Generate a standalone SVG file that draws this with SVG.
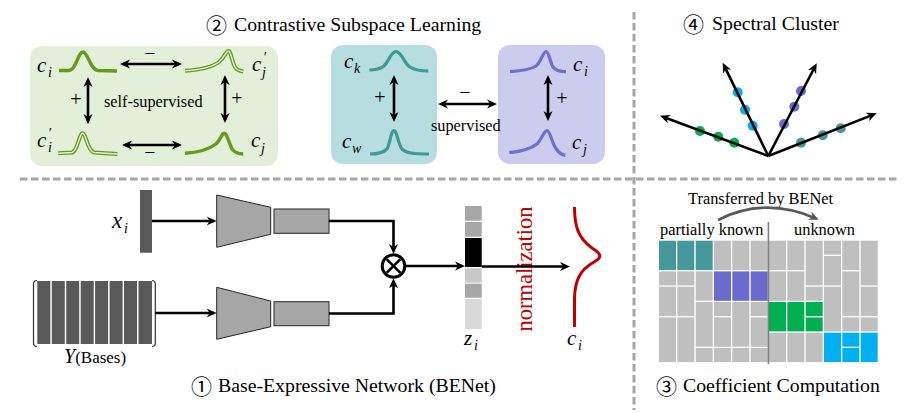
<svg xmlns="http://www.w3.org/2000/svg" width="919" height="413" viewBox="0 0 919 413" font-family="'Liberation Serif','DejaVu Serif',serif">
<style>
text{font-family:'Liberation Serif','DejaVu Serif',serif;fill:#000}
.title{font-size:19.8px}
.circ{font-family:'Noto Sans CJK SC','DejaVu Sans',sans-serif;font-size:21px}
.m{font-style:italic;font-size:21px}
.s{font-size:14px}
.lbl{font-size:16.3px}
.pm{font-size:20px;text-anchor:middle}
.sep{stroke:#A6A6A6;stroke-width:3;stroke-dasharray:7.5 3.5;fill:none}
.ar{stroke:#000;stroke-width:2.6;fill:none;marker-end:url(#ah)}
.ar2{stroke:#000;stroke-width:2.6;fill:none;marker-end:url(#ah);marker-start:url(#ah)}
.gs{stroke:#669A1A;stroke-width:3.4;fill:none;stroke-linecap:butt}
.gd{stroke:#669A1A;stroke-width:4;fill:none}
.gdw{stroke:#E2F0D9;stroke-width:1.4;fill:none}
.tc{stroke:#3F9995;stroke-width:3.2;fill:none}
.pc{stroke:#6E6ED4;stroke-width:3.2;fill:none}
.blk{fill:#A6A6A6;stroke:#262626;stroke-width:1}
.g{fill:#BFBFBF}.t{fill:#45999A}.p{fill:#6A6ACF}.gr{fill:#00B050}.b{fill:#00B0F0}
</style>
<defs>
<marker id="ah" viewBox="0 0 10 10" refX="7" refY="5" markerWidth="10" markerHeight="10" markerUnits="userSpaceOnUse" orient="auto-start-reverse">
<path d="M0,0.5 L10,5 L0,9.5 L3,5 z" fill="#000"/>
</marker>
<marker id="ahg" viewBox="0 0 10 10" refX="7" refY="5" markerWidth="10" markerHeight="10" markerUnits="userSpaceOnUse" orient="auto">
<path d="M0,0.5 L10,5 L0,9.5 L3,5 z" fill="#595959"/>
</marker>
</defs>

<g id="separators">
<line class="sep" x1="20" y1="179" x2="898" y2="179"/>
<line class="sep" x1="634" y1="12" x2="634" y2="410"/>
</g>

<g id="titles">
<text class="title"><tspan class="circ" x="206" y="33">②</tspan><tspan x="234" y="31">Contrastive Subspace Learning</tspan></text>
<text class="title"><tspan class="circ" x="683" y="32">④</tspan><tspan x="712" y="30">Spectral Cluster</tspan></text>
<text class="title"><tspan class="circ" x="191" y="394">①</tspan><tspan x="218" y="392">Base-Expressive Network (BENet)</tspan></text>
<text class="title"><tspan class="circ" x="656" y="394">③</tspan><tspan x="683" y="392">Coefficient Computation</tspan></text>
</g>

<g id="self-supervised-box">
<rect x="30" y="46" width="248" height="120" rx="12" fill="#E2F0D9"/>
<path class="gs" d="M59,70.5 L69,70.5 C76,70.5 78,52 83,52 C88,52 90,70 98,70.5 L117,71"/>
<path class="gd" d="M185,70.7 C198,70 210,68.5 219,62 C225,57 226,51 228.5,51 C231,51 232,62 235,67 C237,70.5 240,71 243.3,71.5"/>
<path class="gdw" d="M185,70.7 C198,70 210,68.5 219,62 C225,57 226,51 228.5,51 C231,51 232,62 235,67 C237,70.5 240,71 243.3,71.5"/>
<path class="gd" d="M58.3,153.3 L72,152.5 C78,151 79,133.3 82.7,133.3 C86,133.3 87,150 94,152.5 L117.3,154"/>
<path class="gdw" d="M58.3,153.3 L72,152.5 C78,151 79,133.3 82.7,133.3 C86,133.3 87,150 94,152.5 L117.3,154"/>
<path class="gs" d="M185,153.3 C198,152.5 208,150 216,144 C221,139 222,133.3 224,133.3 C227,133.3 229,143 232,149 C235,153 239,154 243.3,154"/>
<text class="m" x="37" y="72">c<tspan class="s" x="48" y="77">i</tspan></text>
<text class="m" x="252" y="71">c<tspan class="s" x="263" y="62">′</tspan><tspan class="s" x="262" y="77">j</tspan></text>
<text class="m" x="37" y="147">c<tspan class="s" x="48" y="138">′</tspan><tspan class="s" x="48" y="152">i</tspan></text>
<text class="m" x="251" y="147">c<tspan class="s" x="261" y="153">j</tspan></text>
<text class="pm" x="150" y="60">−</text>
<text class="pm" x="150" y="159">−</text>
<text class="pm" x="76" y="106">+</text>
<text class="pm" x="237" y="105">+</text>
<text class="lbl" x="104" y="107">self-supervised</text>
</g>

<g id="teal-box">
<rect x="331" y="45" width="106" height="119" rx="12" fill="#B6DEDF"/>
<path class="tc" d="M369.3,70 C376,70 380,69 384,66 C389,61 391,51.7 396,51.7 C401,51.7 404,62 409,66.5 C414,70 420,71 428.3,71"/>
<path class="tc" d="M370,154 C378,154 383,153 387,149 C390,144 391,130.7 394,130.7 C397,130.7 398,144 402,149 C406,153 413,154 429,154"/>
<text class="m" x="344" y="68">c<tspan class="s" x="354" y="73">k</tspan></text>
<text class="m" x="342" y="148">c<tspan class="s" x="352" y="153">w</tspan></text>
<text class="pm" x="380" y="104">+</text>
</g>

<g id="purple-box">
<rect x="498" y="45" width="107" height="119" rx="12" fill="#CCCCEE"/>
<path class="pc" d="M510,71.7 C520,71 530,70 536,66 C541,62 543,51.7 546,51.7 C549,51.7 550,62 553,67 C556,71 560,71.7 566,71.7"/>
<path class="pc" d="M509.3,152.7 C520,151.5 530,149.5 537,144 C542,139 544,130.7 547,130.7 C550,130.7 552,143 556,148.5 C559,153 562,155 565.3,155.3"/>
<text class="m" x="573" y="71">c<tspan class="s" x="584" y="76">i</tspan></text>
<text class="m" x="572" y="149">c<tspan class="s" x="583" y="154">j</tspan></text>
<text class="pm" x="562" y="105">+</text>
</g>

<g id="supervised-label">
<text class="pm" x="465" y="99">−</text>
<text class="lbl" x="431" y="131">supervised</text>
</g>

<g id="spectral-cluster">
<circle cx="700" cy="131" r="5" fill="#00B050"/>
<circle cx="718.3" cy="136.7" r="5" fill="#00B050"/>
<circle cx="734.3" cy="142.7" r="5" fill="#00B050"/>
<circle cx="737.7" cy="92.3" r="5" fill="#00B0F0"/>
<circle cx="745" cy="109.7" r="5" fill="#00B0F0"/>
<circle cx="752.7" cy="125.7" r="5" fill="#00B0F0"/>
<circle cx="801" cy="91" r="5" fill="#6A6ACF"/>
<circle cx="794.3" cy="106.7" r="5" fill="#6A6ACF"/>
<circle cx="784" cy="124" r="5" fill="#6A6ACF"/>
<circle cx="801" cy="142.7" r="5" fill="#45999A"/>
<circle cx="822.7" cy="135.3" r="5" fill="#45999A"/>
<circle cx="840.7" cy="128.3" r="5" fill="#45999A"/>
</g>

<g id="x-input">
<rect x="140" y="190" width="12" height="62.7" fill="#595959"/>
<text class="m" x="112" y="228" style="font-size:23px">x<tspan class="s" x="124" y="233">i</tspan></text>
</g>

<g id="bases">
<rect x="37.3" y="281" width="13" height="63" fill="#595959"/>
<rect x="51.8" y="281" width="13" height="63" fill="#595959"/>
<rect x="66.2" y="281" width="13" height="63" fill="#595959"/>
<rect x="80.7" y="281" width="13" height="63" fill="#595959"/>
<rect x="95.1" y="281" width="13" height="63" fill="#595959"/>
<rect x="109.6" y="281" width="13" height="63" fill="#595959"/>
<rect x="124.0" y="281" width="13" height="63" fill="#595959"/>
<rect x="138.5" y="281" width="13.5" height="63" fill="#595959"/>
<path d="M37,280.5 Q33.5,280.5 33.5,284 V343 Q33.5,346.5 37,346.5" stroke="#333" stroke-width="1.2" fill="none"/>
<path d="M152,280.5 Q155.3,280.5 155.3,284 V343 Q155.3,346.5 152,346.5" stroke="#333" stroke-width="1.2" fill="none"/>
<text x="64" y="363"><tspan class="m" style="font-size:20px">Y</tspan><tspan style="font-size:17px">(Bases)</tspan></text>
</g>

<g id="encoder-x">
<polygon class="blk" points="216.7,195 270.7,207.3 270.7,234.3 216.7,247.3"/>
<rect class="blk" x="274" y="209" width="55" height="24.3"/>
</g>
<g id="encoder-y">
<polygon class="blk" points="216.7,287.3 270.7,301 270.7,326.7 216.7,339.3"/>
<rect class="blk" x="274" y="301.7" width="55" height="24"/>
</g>

<g id="otimes">
<circle cx="393.5" cy="266" r="11.3" fill="#fff" stroke="#000" stroke-width="3"/>
<path d="M386.6,259.1 L400.4,272.9 M400.4,259.1 L386.6,272.9" stroke="#000" stroke-width="2.6"/>
</g>

<g id="z-vector">
<rect x="465" y="206" width="16.7" height="14.7" fill="#A6A6A6"/>
<rect x="465" y="222" width="16.7" height="14.7" fill="#A6A6A6"/>
<rect x="465" y="238" width="16.7" height="29" fill="#000"/>
<rect x="465" y="268.3" width="16.7" height="14.4" fill="#C8C8C8"/>
<rect x="465" y="283.7" width="16.7" height="14" fill="#A6A6A6"/>
<rect x="465" y="299" width="16.7" height="30" fill="#D9D9D9"/>
<text class="m" x="464" y="345">z<tspan class="s" x="474" y="350">i</tspan></text>
</g>

<g id="normalization">
<text transform="translate(531.5,269) rotate(-90)" text-anchor="middle" style="font-size:22.5px;fill:#C00000">normalization</text>
</g>

<g id="c-output">
<path d="M574.5,207 C574.5,226 578,238 592,248 C602,254 602,258 594,262 C580,270 575,280 574.5,298 L574.5,327" stroke="#C00000" stroke-width="3" fill="none"/>
<text class="m" x="567" y="345">c<tspan class="s" x="578" y="350">i</tspan></text>
</g>

<g id="coefficient-matrix">
<rect class="t" x="659" y="240.7" width="17" height="29.4"/><rect class="g" x="659" y="271.4" width="17" height="14"/><rect class="g" x="659" y="286.7" width="17" height="29.4"/><rect class="g" x="659" y="317.4" width="17" height="44.7"/>
<rect class="t" x="677.3" y="240.7" width="17" height="29.4"/><rect class="g" x="677.3" y="271.4" width="17" height="14"/><rect class="g" x="677.3" y="286.7" width="17" height="29.4"/><rect class="g" x="677.3" y="317.4" width="17" height="44.7"/>
<rect class="t" x="695.7" y="240.7" width="17" height="29.4"/><rect class="g" x="695.7" y="271.4" width="17" height="29.4"/><rect class="g" x="695.7" y="302" width="17" height="44.7"/><rect class="g" x="695.7" y="348" width="17" height="14"/>
<rect class="g" x="714" y="240.7" width="17" height="29.4"/><rect class="p" x="714" y="271.4" width="17" height="29.4"/><rect class="g" x="714" y="302" width="17" height="14"/><rect class="g" x="714" y="317.4" width="17" height="29.4"/><rect class="g" x="714" y="348" width="17" height="14"/>
<rect class="g" x="732.3" y="240.7" width="17" height="29.4"/><rect class="p" x="732.3" y="271.4" width="17" height="29.4"/><rect class="g" x="732.3" y="302" width="17" height="44.7"/><rect class="g" x="732.3" y="348" width="17" height="14"/>
<rect class="g" x="750.7" y="240.7" width="17" height="29.4"/><rect class="p" x="750.7" y="271.4" width="17" height="29.4"/><rect class="g" x="750.7" y="302" width="17" height="14"/><rect class="g" x="750.7" y="317.4" width="17" height="29.4"/><rect class="g" x="750.7" y="348" width="17" height="14"/>
<rect class="g" x="769" y="240.7" width="17" height="29.4"/><rect class="g" x="769" y="271.4" width="17" height="29.4"/><rect class="gr" x="769" y="302" width="17" height="29.4"/><rect class="g" x="769" y="332.7" width="17" height="29.4"/>
<rect class="g" x="787.3" y="240.7" width="17" height="29.4"/><rect class="g" x="787.3" y="271.4" width="17" height="29.4"/><rect class="gr" x="787.3" y="302" width="17" height="29.4"/><rect class="g" x="787.3" y="332.7" width="17" height="29.4"/>
<rect class="g" x="805.7" y="240.7" width="17" height="44.7"/><rect class="g" x="805.7" y="286.7" width="17" height="14"/><rect class="gr" x="805.7" y="302" width="17" height="14"/><rect class="gr" x="805.7" y="317.4" width="17" height="14"/><rect class="g" x="805.7" y="332.7" width="17" height="29.4"/>
<rect class="g" x="824" y="240.7" width="17" height="14"/><rect class="g" x="824" y="256" width="17" height="29.4"/><rect class="g" x="824" y="286.7" width="17" height="44.7"/><rect class="b" x="824" y="332.7" width="17" height="29.4"/>
<rect class="g" x="842.3" y="240.7" width="17" height="29.4"/><rect class="g" x="842.3" y="271.4" width="17" height="44.7"/><rect class="g" x="842.3" y="317.4" width="17" height="14"/><rect class="b" x="842.3" y="332.7" width="17" height="14"/><rect class="b" x="842.3" y="348" width="17" height="14"/>
<rect class="g" x="860.7" y="240.7" width="17" height="44.7"/><rect class="g" x="860.7" y="286.7" width="17" height="29.4"/><rect class="g" x="860.7" y="317.4" width="17" height="14"/><rect class="b" x="860.7" y="332.7" width="17" height="29.4"/>
<line x1="768.4" y1="222" x2="768.4" y2="364" stroke="#7F7F7F" stroke-width="1.6"/>
<text style="font-size:16.4px" x="688" y="204">Transferred by BENet</text>
<text style="font-size:16.4px" x="660" y="235">partially known</text>
<text style="font-size:16.4px" x="794" y="235">unknown</text>
</g>

<g id="connectors">
<line class="ar2" x1="123" y1="64" x2="179" y2="64"/>
<line class="ar2" x1="125" y1="145" x2="179" y2="145"/>
<line class="ar2" x1="88" y1="80" x2="88" y2="121"/>
<line class="ar2" x1="225" y1="78" x2="225" y2="120"/>
<line class="ar2" x1="394" y1="78" x2="394" y2="119"/>
<line class="ar2" x1="548" y1="78" x2="548" y2="118"/>
<line class="ar2" x1="441" y1="104" x2="494" y2="104"/>
<line class="ar" x1="768.3" y1="156" x2="662.8" y2="116.7"/>
<line class="ar" x1="768.3" y1="156" x2="724" y2="65.4"/>
<line class="ar" x1="768.3" y1="156" x2="815.3" y2="66"/>
<line class="ar" x1="768.3" y1="156" x2="873.9" y2="114.4"/>
<line class="ar" x1="152" y1="221" x2="213.7" y2="221"/>
<line class="ar" x1="155.3" y1="313" x2="213.7" y2="313"/>
<path class="ar" d="M329,221 H393.5 V251"/>
<path class="ar" d="M329,313.5 H393.5 V281.3"/>
<line class="ar" x1="404.8" y1="266" x2="462" y2="266"/>
<line class="ar" x1="481.7" y1="266.5" x2="567" y2="266.5"/>
<path d="M718,220 Q765,196 816,218.5" stroke="#595959" stroke-width="2.6" fill="none" marker-end="url(#ahg)"/>
</g>
</svg>
